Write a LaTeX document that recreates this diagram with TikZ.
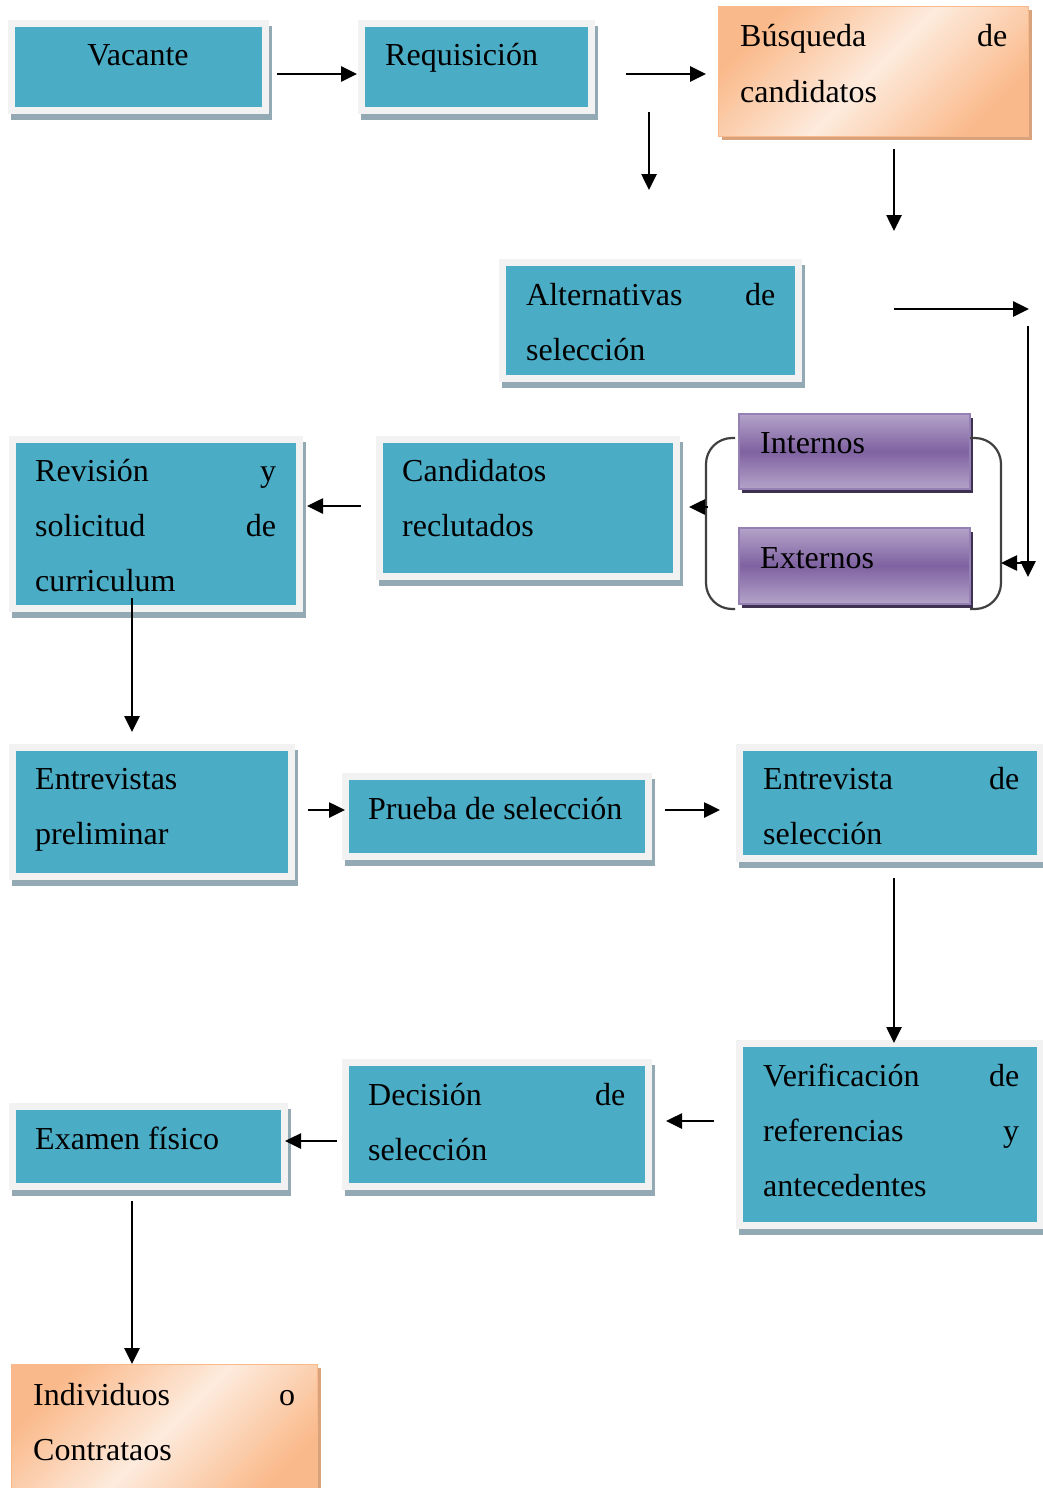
\documentclass[tikz,border=0pt]{standalone}
\usepackage{fontspec}
\setmainfont{Liberation Serif}
\usetikzlibrary{arrows.meta}
\definecolor{tealc}{HTML}{4BACC6}
\definecolor{framec}{HTML}{F2F2F2}
\definecolor{shadc}{HTML}{93AAB5}
\definecolor{purpL}{HTML}{B4A3C9}
\definecolor{purpD}{HTML}{7F62A1}
\definecolor{purpB}{HTML}{9480B3}
\definecolor{purpS}{HTML}{3F3151}
\definecolor{oraD}{HTML}{FAB98A}
\definecolor{oraL}{HTML}{FDEBDD}
\definecolor{oraS}{HTML}{D8A37C}
\definecolor{brkc}{HTML}{404040}
\begin{document}
\begin{tikzpicture}[x=1pt,y=-1pt,
 tealbox/.style={rectangle, inner sep=0pt, anchor=north west, fill=tealc,
   preaction={fill=shadc, draw=shadc, line width=14pt, transform canvas={xshift=3pt,yshift=-6pt}},
   preaction={draw=framec, line width=14pt}},
 purpbox/.style={rectangle, inner sep=0pt, anchor=north west,
   preaction={fill=purpS, transform canvas={xshift=3pt,yshift=-4pt}},
   top color=purpL, bottom color=purpL, middle color=purpD, draw=purpB, line width=1.5pt},
 orabox/.style={rectangle, inner sep=0pt, anchor=north west,
   preaction={fill=oraS, transform canvas={xshift=3pt,yshift=-3pt}},
   top color=oraD, bottom color=oraD, middle color=oraL, shading angle=45,
   draw=oraD, line width=1.2pt},
 txt/.style={inner sep=0pt, anchor=base west, align=left, text=black,
   font=\fontsize{32pt}{55pt}\selectfont},
 arr/.style={-{Triangle[length=16pt,width=15pt]}, line width=2.6pt, black},
 brk/.style={draw=brkc, line width=2.2pt, rounded corners=26pt}
]
\useasboundingbox (0,0) rectangle (1043,1488);

% boxes
\node[tealbox, minimum width=247pt, minimum height=80pt] (vac) at (15,27) {};
\node[tealbox, minimum width=223pt, minimum height=80pt] (req) at (365,27) {};
\node[orabox, minimum width=310pt, minimum height=130pt] (bus) at (718,6) {};
\node[tealbox, minimum width=289pt, minimum height=109pt] (alt) at (506,266) {};
\node[purpbox, minimum width=231pt, minimum height=75pt] (int) at (738,413) {};
\node[purpbox, minimum width=231pt, minimum height=76pt] (ext) at (738,527) {};
\node[tealbox, minimum width=290pt, minimum height=130pt] (cand) at (383,443) {};
\node[tealbox, minimum width=280pt, minimum height=162pt] (rev) at (16,443) {};
\node[tealbox, minimum width=272pt, minimum height=122pt] (entp) at (16,751) {};
\node[tealbox, minimum width=296pt, minimum height=73pt] (prueba) at (349,780) {};
\node[tealbox, minimum width=294pt, minimum height=104pt] (ents) at (743,751) {};
\node[tealbox, minimum width=294pt, minimum height=175pt] (ver) at (743,1047) {};
\node[tealbox, minimum width=296pt, minimum height=117pt] (dec) at (349,1066) {};
\node[tealbox, minimum width=265pt, minimum height=73pt] (exa) at (16,1110) {};
\node[orabox, minimum width=306pt, minimum height=135pt] (ind) at (11,1364) {};

% texts
\node[txt, anchor=base] (vac-t) at (138,66) {Vacante};
\node[txt] (req-t) at (385,66) {Requisición};
\node[txt, text width=267pt] (bus-t) at (740,47) {Búsqueda\hfill de\\candidatos};
\node[txt, text width=249pt] (alt-t) at (526,305) {Alternativas\hfill de\\selección};
\node[txt] (int-t) at (760,453) {Internos};
\node[txt] (ext-t) at (760,568) {Externos};
\node[txt, text width=250pt] (cand-t) at (402,481) {Candidatos\\reclutados};
\node[txt, text width=241pt] (rev-t) at (35,481) {Revisión\hfill y\\solicitud\hfill de\\curriculum};
\node[txt, text width=240pt] (entp-t) at (35,789) {Entrevistas\\preliminar};
\node[txt] (prueba-t) at (368,819) {Prueba de selección};
\node[txt, text width=256pt] (ents-t) at (763,789) {Entrevista\hfill de\\selección};
\node[txt, text width=256pt] (ver-t) at (763,1086) {Verificación\hfill de\\referencias\hfill y\\antecedentes};
\node[txt, text width=257pt] (dec-t) at (368,1105) {Decisión\hfill de\\selección};
\node[txt] (exa-t) at (35,1149) {Examen físico};
\node[txt, text width=262pt] (ind-t) at (33,1405) {Individuos\hfill o\\Contrataos};

% brackets
\coordinate (bl1) at (735,438); \coordinate (bl2) at (706,438);
\coordinate (bl3) at (706,609); \coordinate (bl4) at (735,609);
\draw[brk] (bl1) -- (bl2) -- (bl3) -- (bl4);
\coordinate (br1) at (970,438); \coordinate (br2) at (1001,438);
\coordinate (br3) at (1001,609); \coordinate (br4) at (970,609);
\draw[brk] (br1) -- (br2) -- (br3) -- (br4);

% connectors
\coordinate (a1s) at (277,74);   \coordinate (a1e) at (357,74);
\coordinate (a2s) at (626,74);   \coordinate (a2e) at (706,74);
\coordinate (a3s) at (649,112);  \coordinate (a3e) at (649,190);
\coordinate (a4s) at (894,149);  \coordinate (a4e) at (894,231);
\coordinate (a5s) at (894,309);  \coordinate (a5e) at (1029,309);
\coordinate (a6s) at (1028,326); \coordinate (a6e) at (1028,577);
\coordinate (a7s) at (1028,563); \coordinate (a7e) at (1001,563);
\coordinate (a8s) at (708,507);  \coordinate (a8e) at (689,507);
\coordinate (a9s) at (361,506);  \coordinate (a9e) at (307,506);
\coordinate (a10s) at (132,598); \coordinate (a10e) at (132,732);
\coordinate (a11s) at (308,810); \coordinate (a11e) at (345,810);
\coordinate (a12s) at (665,810); \coordinate (a12e) at (720,810);
\coordinate (a13s) at (894,878); \coordinate (a13e) at (894,1043);
\coordinate (a14s) at (714,1121); \coordinate (a14e) at (666,1121);
\coordinate (a15s) at (337,1141); \coordinate (a15e) at (285,1141);
\coordinate (a16s) at (132,1201); \coordinate (a16e) at (132,1364);
\foreach \i in {1,...,16} \draw[arr] (a\i s) -- (a\i e);
\end{tikzpicture}
\end{document}
